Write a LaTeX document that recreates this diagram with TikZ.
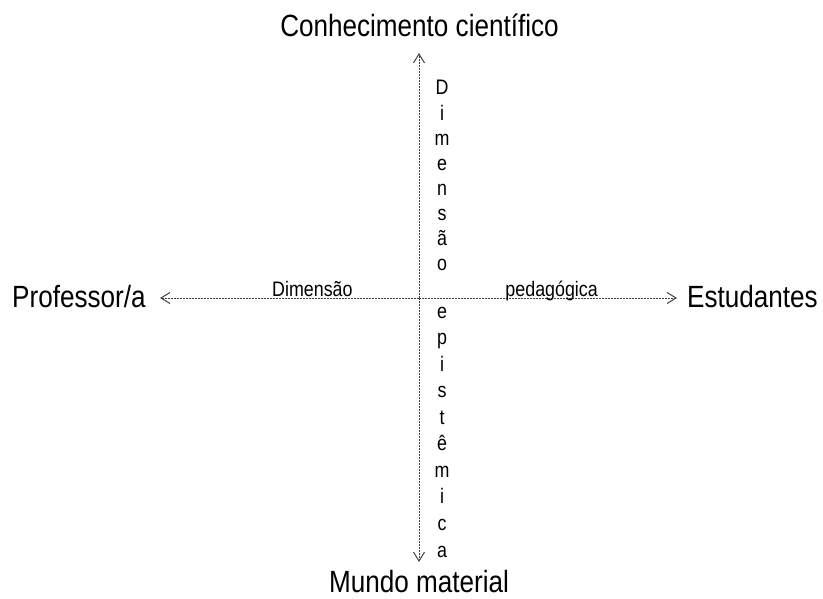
\documentclass[tikz,border=0pt]{standalone}
\usepackage{fontspec}
\setmainfont[FakeStretch=0.85]{Liberation Sans}
\usetikzlibrary{arrows.meta}
\tikzset{
  axis/.style={draw=black!75, line width=1pt, dash pattern=on 2pt off 1pt,
    -{Straight Barb[length=9pt,width=11pt,line width=1pt]}},
  bigtxt/.style={inner sep=0pt, font=\fontsize{30.7}{36}\selectfont},
  smalltxt/.style={inner sep=0pt, font=\fontsize{21}{25}\selectfont},
}
\begin{document}
\begin{tikzpicture}[x=1pt,y=-1pt]
\useasboundingbox (0,0) rectangle (823,599);
% end points
\coordinate (O) at (419,298);
\coordinate (top) at (419,53);
\coordinate (bot) at (419,562);
\coordinate (lft) at (160,298);
\coordinate (rgt) at (677,298);
\draw[axis] (O) -- (top);
\draw[axis] (O) -- (bot);
\draw[axis] (O) -- (lft);
\draw[axis] (O) -- (rgt);
% pole labels
\node[bigtxt, anchor=base] (conh) at (419.5,37) {Conhecimento científico};
\node[bigtxt, anchor=base] (mundo) at (419,592) {Mundo material};
\node[bigtxt, anchor=base west] (prof) at (12,307) {Professor/a};
\node[bigtxt, anchor=base east] (est) at (818,307) {Estudantes};
% horizontal dimension labels
\node[smalltxt, anchor=base west] (dimh) at (272,296) {Dimensão};
\node[smalltxt, anchor=base east] (ped) at (598,296) {pedagógica};
% vertical letters
\foreach \ch [count=\i] in {D,i,m,e,n,s,ã,o}
  \node[smalltxt, anchor=base] (vt\i) at (442,{95+25.14*(\i-1)}) {\ch};
\foreach \ch [count=\i] in {e,p,i,s,t,ê,m,i,c,a}
  \node[smalltxt, anchor=base] (vb\i) at (442,{318+26.56*(\i-1)}) {\ch};
\end{tikzpicture}
\end{document}
